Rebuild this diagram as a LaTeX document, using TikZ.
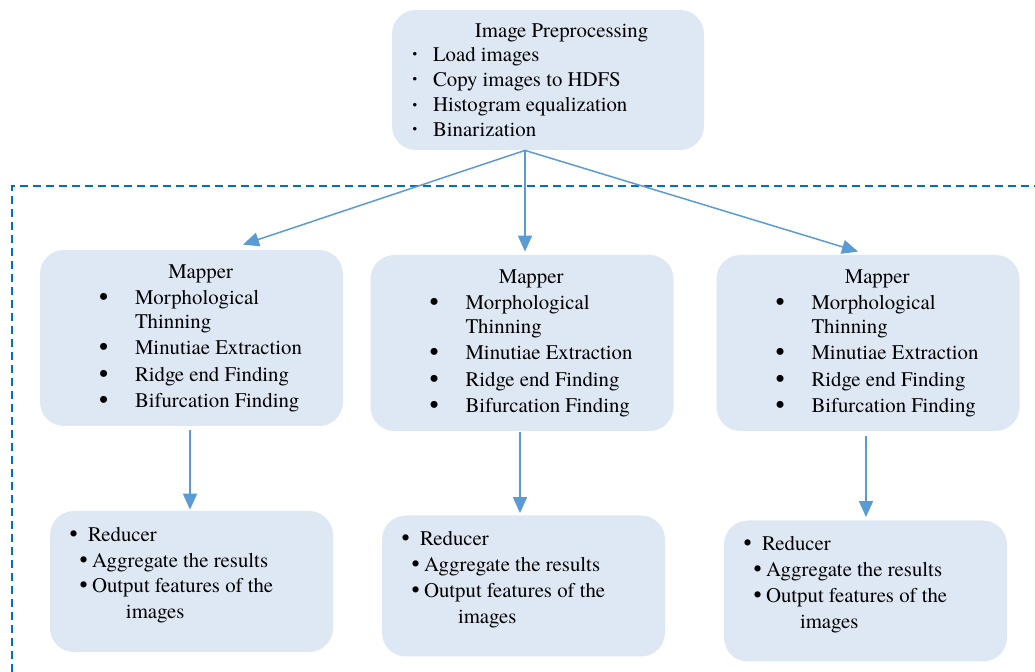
\documentclass[tikz,border=0pt]{standalone}
\usepackage{fontspec}
\setmainfont{texgyretermes-regular.otf}
\usetikzlibrary{arrows.meta}

\definecolor{boxfill}{HTML}{DEE8F4}
\definecolor{arrowblue}{HTML}{5B9BD5}
\definecolor{frameblue}{HTML}{0070C0}

\tikzset{
  box/.style={fill=boxfill, rounded corners=12pt, inner sep=0pt},
  prebox/.style={box, minimum width=156pt, minimum height=70pt},
  mapbox/.style={box, minimum width=151.5pt, minimum height=88pt},
  redbox/.style={box, minimum width=141.5pt, minimum height=70.5pt},
  txt/.style={anchor=base west, inner sep=0pt, font=\fontsize{10.4pt}{12pt}\selectfont},
  flow/.style={draw=arrowblue, line width=0.75pt, -{Triangle[length=8pt,width=7pt]}},
}

\begin{document}
\begin{tikzpicture}[x=0.5pt,y=-0.5pt]
  \useasboundingbox (0,0) rectangle (1035,672);
  \newcommand\tbul{\makebox[10.15pt][l]{\raisebox{1.4pt}{\fontsize{6.5pt}{6.5pt}\selectfont\textbullet}}}
  \newcommand\mbul{\makebox[18pt][l]{\raisebox{-0.4pt}{\fontsize{13pt}{13pt}\selectfont\textbullet}}}
  \newcommand\rbul{\makebox[9.25pt][l]{\fontsize{11.5pt}{11.5pt}\selectfont\textbullet}}
  \newcommand\sbul{\makebox[6.25pt][l]{\fontsize{11.5pt}{11.5pt}\selectfont\textbullet}}
  \newcommand\mapper[3]{
    \node[mapbox] (#1) at (#2,#3) {};
    \node[txt,anchor=base] (#1-head) at ([shift={(161,29.3)}]#1.north west) {Mapper};
    \foreach \dy/\dx/\t in {55/59/{\mbul Morphological},79.3/95/{Thinning},
        105.3/59/{\mbul Minutiae Extraction},132.3/59/{\mbul Ridge end Finding},
        158.3/59/{\mbul Bifurcation Finding}}{
      \node[txt] (#1-\dy) at ([shift={(\dx,\dy)}]#1.north west) {\t};
    }
  }
  \newcommand\reducer[3]{
    \node[redbox] (#1) at (#2,#3) {};
    \foreach \dy/\dx/\t in {30.7/19.5/{\rbul Reducer},56.7/29.5/{\sbul Aggregate the results},
        82.3/29.5/{\sbul Output features of the},108.3/76/{images}}{
      \node[txt] (#1-\dy) at ([shift={(\dx,\dy)}]#1.north west) {\t};
    }
  }

% cluster frame
  \draw[frameblue, line width=0.7pt, dash pattern=on 4pt off 2.5pt] (12,672) -- (12,186) -- (1035,186);

% preprocessing
  \node[prebox] (pre) at (548,80) {};
  \node[txt,anchor=base] (pre-head) at ([shift={(170,28.3)}]pre.north west) {Image Preprocessing};
  \foreach \dy/\t in {51.7/{Load images},76.7/{Copy images to HDFS},
      102.3/{Histogram equalization},126.7/{Binarization}}{
    \node[txt] (pre-\dy) at ([shift={(20.7,\dy)}]pre.north west) {\tbul\t};
  }

% mappers and reducers
  \mapper{map1}{191.5}{338}
  \mapper{map2}{522}{343}
  \mapper{map3}{868}{343}
  \reducer{red1}{191.5}{581.5}
  \reducer{red2}{523.5}{586}
  \reducer{red3}{865.5}{591}

% arrows
  \draw[flow] ([shift={(-23,0)}]pre.south) -- ([shift={(51.5,-5)}]map1.north);
  \draw[flow] ([shift={(-23,0)}]pre.south) -- ([shift={(3,-3)}]map2.north);
  \draw[flow] ([shift={(-23,0)}]pre.south) -- ([shift={(-10,-3)}]map3.north);
  \draw[flow] ([shift={(-1.5,4)}]map1.south) -- ([shift={(-1.5,-1)}]red1.north);
  \draw[flow] ([shift={(-2,1)}]map2.south) -- ([shift={(-3.5,-2)}]red2.north);
  \draw[flow] ([shift={(-2,5)}]map3.south) -- ([shift={(0.5,-3)}]red3.north);
\end{tikzpicture}
\end{document}
